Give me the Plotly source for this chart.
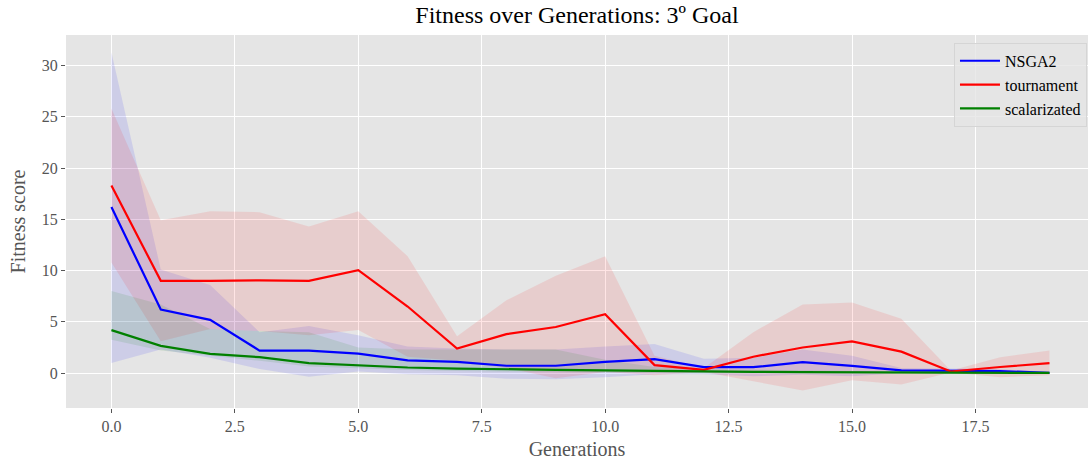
import plotly.graph_objects as go

generations = list(range(20))

nsga2_mean = [16.2, 6.2, 5.2, 2.2, 2.2, 1.9, 1.25, 1.1, 0.72, 0.72, 1.1, 1.36, 0.58, 0.58, 1.07, 0.71, 0.26, 0.2, 0.2, 0.02]
nsga2_upper = [31.3, 10.1, 8.6, 4.0, 4.6, 3.7, 2.6, 2.4, 2.3, 2.3, 2.6, 2.85, 1.4, 1.5, 2.3, 1.7, 0.5, 0.45, 0.4, 0.1]
nsga2_lower = [1.0, 2.3, 1.5, 0.4, -0.35, 0.15, -0.1, -0.2, -0.55, -0.6, -0.4, -0.1, -0.1, -0.3, -0.15, -0.3, 0.0, -0.05, 0.0, -0.05]

tour_mean = [18.3, 9.0, 9.0, 9.05, 9.0, 10.05, 6.5, 2.4, 3.8, 4.5, 5.75, 0.78, 0.32, 1.6, 2.5, 3.1, 2.1, 0.16, 0.6, 0.97]
tour_upper = [25.8, 14.9, 15.8, 15.7, 14.3, 15.8, 11.4, 3.6, 7.1, 9.5, 11.4, 1.7, 0.5, 4.0, 6.7, 6.9, 5.3, 0.26, 1.56, 2.2]
tour_lower = [10.8, 3.1, 4.3, 4.1, 3.7, 4.2, 1.6, 1.2, 0.5, -0.5, 0.1, -0.2, 0.1, -0.8, -1.7, -0.7, -1.1, 0.06, -0.4, -0.2]

scal_mean = [4.2, 2.66, 1.88, 1.56, 0.98, 0.78, 0.55, 0.45, 0.36, 0.32, 0.26, 0.2, 0.15, 0.12, 0.1, 0.08, 0.06, 0.05, 0.04, 0.02]
scal_upper = [8.0, 6.7, 4.3, 4.1, 4.0, 2.5, 2.3, 2.3, 2.3, 2.3, 1.3, 0.6, 0.4, 0.35, 0.3, 0.25, 0.2, 0.15, 0.12, 0.05]
scal_lower = [3.25, 2.2, 1.7, 1.2, 0.65, 0.5, 0.3, 0.2, 0.1, 0.05, 0.05, 0.0, -0.05, -0.05, -0.05, -0.05, -0.05, -0.03, -0.02, 0.0]

x_tickvals = [0, 2.5, 5, 7.5, 10, 12.5, 15, 17.5]
x_ticktext = ["0.0", "2.5", "5.0", "7.5", "10.0", "12.5", "15.0", "17.5"]
y_tickvals = [0, 5, 10, 15, 20, 25, 30]

series = [
    ("NSGA2", nsga2_mean, nsga2_lower, nsga2_upper, "#0000FF", "rgba(0,0,255,0.1)"),
    ("tournament", tour_mean, tour_lower, tour_upper, "#FF0000", "rgba(255,0,0,0.1)"),
    ("scalarizated", scal_mean, scal_lower, scal_upper, "#008000", "rgba(0,128,0,0.1)"),
]

FONT = "Liberation Serif, Times New Roman, serif"

fig = go.Figure()
for name, mean, lo, hi, col, fillc in series:
    fig.add_trace(go.Scatter(
        x=generations + generations[::-1], y=hi + lo[::-1],
        fill="toself", fillcolor=fillc, line=dict(width=0),
        mode="lines", showlegend=False, hoverinfo="skip"))
for name, mean, lo, hi, col, fillc in series:
    fig.add_trace(go.Scatter(
        x=generations, y=mean, mode="lines", name=name,
        line=dict(color=col, width=2.2)))

fig.update_layout(
    width=1090, height=462,
    margin=dict(l=66, r=2, t=35, b=54),
    paper_bgcolor="white", plot_bgcolor="#E5E5E5",
    font=dict(family=FONT, color="#555555", size=16),
    title=dict(text="Fitness over Generations: 3º Goal", xref="paper", x=0.5, xanchor="center",
               yref="container", y=0.968, yanchor="middle",
               font=dict(size=24, color="black", family=FONT)),
    legend=dict(x=0.999, y=0.979, xanchor="right", yanchor="top",
                bgcolor="rgba(229,229,229,0.8)", bordercolor="#D5D5D5", borderwidth=1,
                font=dict(size=16, color="black", family=FONT),
                tracegroupgap=0, itemwidth=40),
    showlegend=True,
)
fig.update_xaxes(range=[-0.92, 19.78], tickmode="array",
                 tickvals=x_tickvals, ticktext=x_ticktext,
                 showgrid=True, gridcolor="white", gridwidth=1.2, zeroline=False,
                 ticks="outside", ticklen=4, tickcolor="#555555",
                 tickfont=dict(size=16, color="#555555"),
                 title=dict(text="Generations", font=dict(size=20, color="#555555"), standoff=7),
                 showline=False)
fig.update_yaxes(range=[-3.4, 32.98], tickmode="array", tickvals=y_tickvals,
                 showgrid=True, gridcolor="white", gridwidth=1.2, zeroline=False,
                 ticks="outside", ticklen=4, tickcolor="#555555",
                 tickfont=dict(size=16, color="#555555"),
                 title=dict(text="Fitness score", font=dict(size=20, color="#555555"), standoff=10),
                 showline=False)

fig.write_html("out.html")
